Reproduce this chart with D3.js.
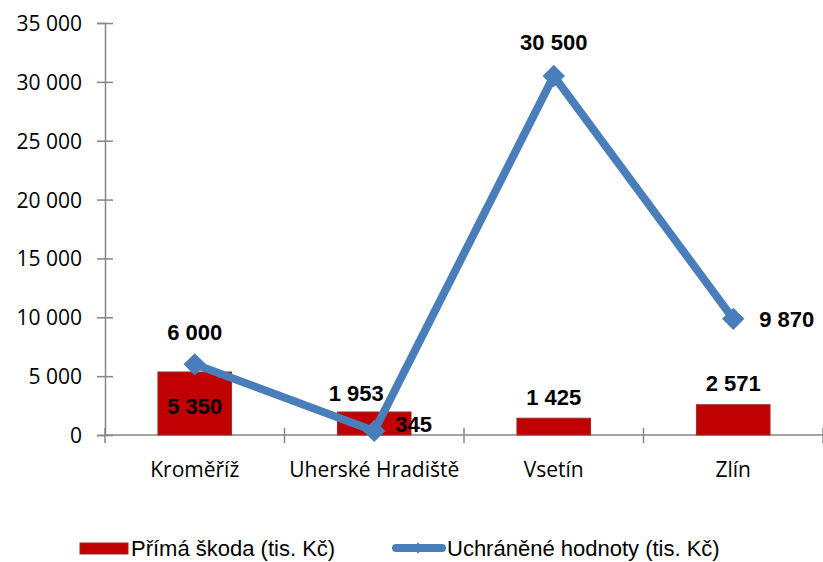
<!DOCTYPE html>
<html>
<head>
<meta charset="utf-8">
<script src="https://cdn.jsdelivr.net/npm/d3@7"></script>
<style>
  body { margin: 0; background: #fff; }
  .tickText { font-family: 'Open Sans', sans-serif; font-size: 21px; fill: #000; }
  .dataLabel { font-family: 'Liberation Sans', Arial, sans-serif; font-size: 22px; font-weight: bold; fill: #000; }
  .legendText { font-family: 'Liberation Sans', Arial, sans-serif; font-size: 22px; fill: #000; }
</style>
</head>
<body>
<div id="chart"></div>
<script>
// data
var categories = ['Kroměříž', 'Uherské Hradiště', 'Vsetín', 'Zlín'];
var primaSkoda = [5350, 1953, 1425, 2571];
var uchraneneHodnoty = [6000, 345, 30500, 9870];
var yTicks = [0, 5000, 10000, 15000, 20000, 25000, 30000, 35000];
var seriesNames = ['Přímá škoda (tis. Kč)', 'Uchráněné hodnoty (tis. Kč)'];

var svgWidth = 823;
var svgHeight = 562;

var margin = { top: 23, right: 0, bottom: 127, left: 105 };
var width = svgWidth - margin.left - margin.right;
var height = svgHeight - margin.top - margin.bottom;

var barColor = '#C00000';
var barEdge = '#A02828';
var lineColor = '#4A7EBB';
var axisColor = '#868686';

var csFormat = d3.formatLocale({ decimal: ',', thousands: '\u00a0', grouping: [3], currency: ['', ' Kč'] }).format(',d');

var svg = d3.select('#chart')
  .append('svg')
  .attr('width', svgWidth)
  .attr('height', svgHeight);

var chartGroup = svg.append('g')
  .attr('transform', `translate(${margin.left}, ${margin.top})`);

var xScale = d3.scaleBand()
  .domain(categories)
  .range([0, width]);

var yScale = d3.scaleLinear()
  .domain([0, 35000])
  .range([height, 0]);

var cx = i => xScale(categories[i]) + xScale.bandwidth() / 2;

// y axis
var leftAxis = d3.axisLeft(yScale)
  .tickValues(yTicks)
  .tickFormat(csFormat)
  .tickSize(8)
  .tickPadding(23);

var yAxisG = chartGroup.append('g').call(leftAxis)
  .attr('font-family', null).attr('font-size', null);
yAxisG.select('.domain').attr('stroke', axisColor).attr('stroke-width', 1.5);
yAxisG.selectAll('.tick line').attr('stroke', axisColor).attr('stroke-width', 1.5).attr('x1', -8).attr('x2', 8);
yAxisG.selectAll('.tick text').attr('class', 'tickText').attr('x', -23).attr('dy', '0.36em');

// x axis
var xBoundaries = categories.map(c => xScale(c)).concat([width]);
chartGroup.append('line')
  .attr('x1', 0).attr('x2', width)
  .attr('y1', height).attr('y2', height)
  .attr('stroke', axisColor).attr('stroke-width', 1.5);

chartGroup.selectAll('.xTick')
  .data(xBoundaries)
  .enter()
  .append('line')
  .attr('class', 'xTick')
  .attr('x1', d => d).attr('x2', d => d)
  .attr('y1', height - 7).attr('y2', height + 8)
  .attr('stroke', axisColor).attr('stroke-width', 1.5);

chartGroup.selectAll('.xLabel')
  .data(categories)
  .enter()
  .append('text')
  .attr('class', 'tickText')
  .attr('x', (d, i) => cx(i))
  .attr('y', height + 42)
  .attr('text-anchor', 'middle')
  .text(d => d);

// bars
var barWidth = xScale.bandwidth() * 0.41;
chartGroup.selectAll('.bar')
  .data(primaSkoda)
  .enter()
  .append('rect')
  .attr('class', 'bar')
  .attr('x', (d, i) => cx(i) - barWidth / 2)
  .attr('y', d => yScale(d))
  .attr('width', barWidth)
  .attr('height', d => height - yScale(d))
  .attr('fill', barColor)
  .attr('stroke', barEdge)
  .attr('stroke-width', 1);

// line
var lineGen = d3.line()
  .x((d, i) => cx(i))
  .y(d => yScale(d));

chartGroup.append('path')
  .datum(uchraneneHodnoty)
  .attr('d', lineGen)
  .attr('fill', 'none')
  .attr('stroke', lineColor)
  .attr('stroke-width', 8)
  .attr('stroke-linejoin', 'miter');

var diamond = d3.symbol().type(d3.symbolSquare).size(250);
chartGroup.selectAll('.marker')
  .data(uchraneneHodnoty)
  .enter()
  .append('path')
  .attr('class', 'marker')
  .attr('d', diamond)
  .attr('transform', (d, i) => `translate(${cx(i)}, ${yScale(d)}) rotate(45)`)
  .attr('fill', lineColor);

// label placement (offsets from the mark, in px)
var barLabelDx = [0, -18, 0, 0];
var barLabelDy = [42, -11, -13, -14];
var lineLabelDx = [0, 21, 0, 26];
var lineLabelDy = [-24, 1, -26, 8];
var lineLabelAnchor = ['middle', 'start', 'middle', 'start'];

chartGroup.selectAll('.barLabel')
  .data(primaSkoda)
  .enter()
  .append('text')
  .attr('class', 'dataLabel')
  .attr('x', (d, i) => cx(i) + barLabelDx[i])
  .attr('y', (d, i) => yScale(d) + barLabelDy[i])
  .attr('text-anchor', 'middle')
  .text(d => csFormat(d));

chartGroup.selectAll('.lineLabel')
  .data(uchraneneHodnoty)
  .enter()
  .append('text')
  .attr('class', 'dataLabel')
  .attr('x', (d, i) => cx(i) + lineLabelDx[i])
  .attr('y', (d, i) => yScale(d) + lineLabelDy[i])
  .attr('text-anchor', (d, i) => lineLabelAnchor[i])
  .text(d => csFormat(d));

// legend
var legend = svg.append('g').attr('transform', 'translate(0, 548)');

legend.append('rect')
  .attr('x', 80).attr('y', -5)
  .attr('width', 48).attr('height', 11)
  .attr('fill', barColor)
  .attr('stroke', barEdge);

legend.append('text')
  .attr('class', 'legendText')
  .attr('x', 131).attr('y', 8)
  .text(seriesNames[0]);

legend.append('line')
  .attr('x1', 396).attr('x2', 442)
  .attr('y1', 0).attr('y2', 0)
  .attr('stroke', lineColor)
  .attr('stroke-width', 8)
  .attr('stroke-linecap', 'round');

legend.append('path')
  .attr('d', d3.symbol().type(d3.symbolSquare).size(60))
  .attr('transform', 'translate(418, 0) rotate(45)')
  .attr('fill', lineColor);

legend.append('text')
  .attr('class', 'legendText')
  .attr('x', 447).attr('y', 8)
  .text(seriesNames[1]);
</script>
</body>
</html>
